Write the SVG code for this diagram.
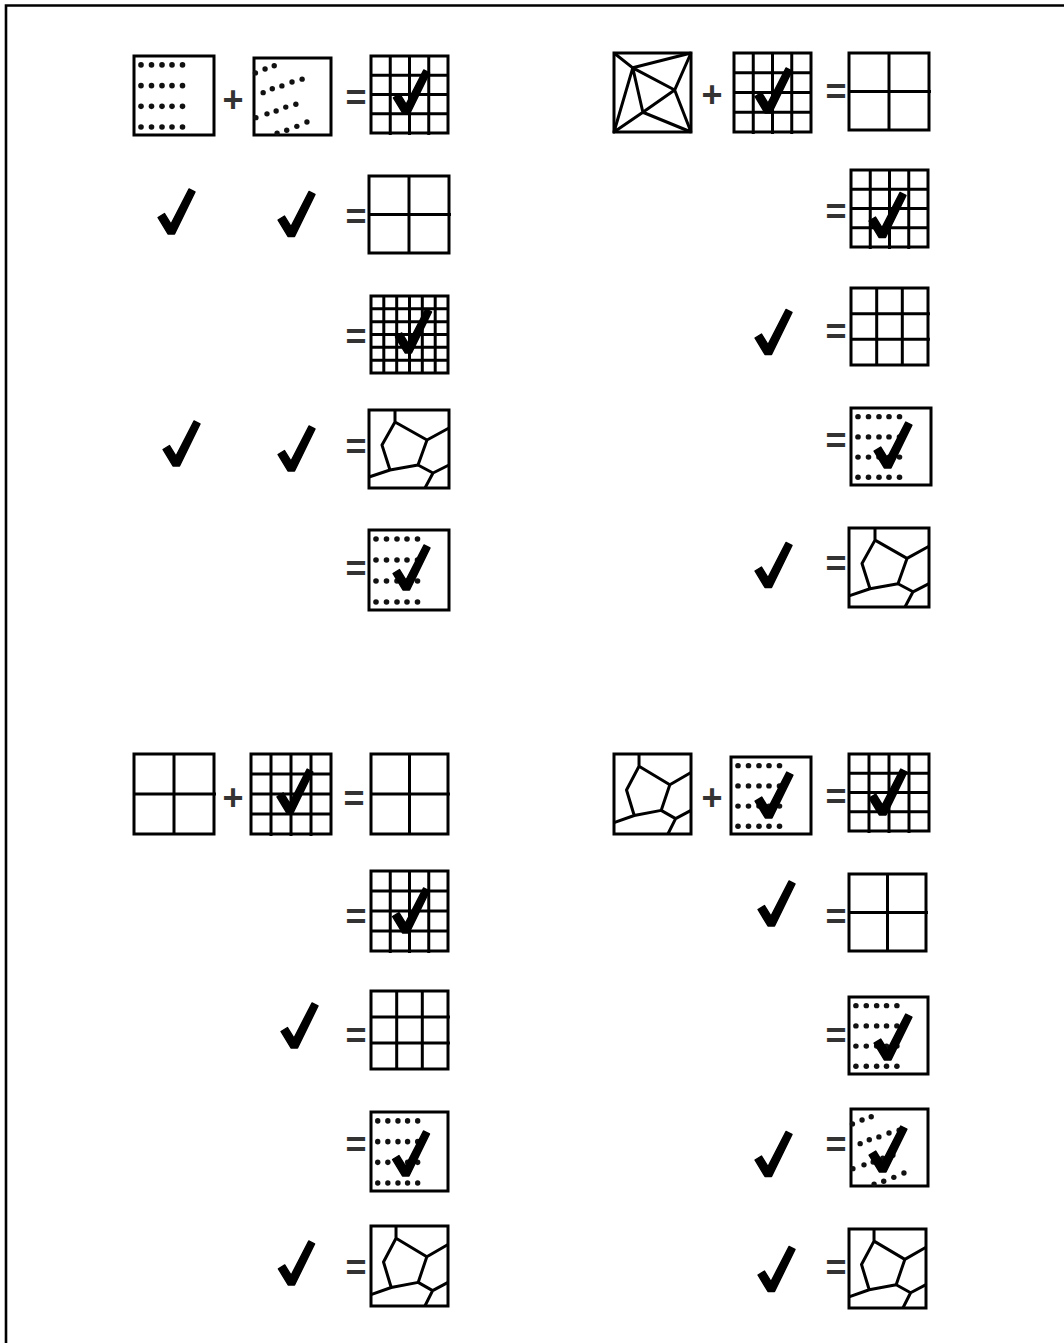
<svg xmlns="http://www.w3.org/2000/svg" xmlns:xlink="http://www.w3.org/1999/xlink" width="1064" height="1343" viewBox="0 0 1064 1343">
<style>
.ln{fill:none;stroke:#000;stroke-width:3;vector-effect:non-scaling-stroke;stroke-linejoin:round}
.bx{fill:#fff;stroke:#000;stroke-width:3;vector-effect:non-scaling-stroke}
.dt{fill:#111}
.op{font-family:"Liberation Sans",Arial,sans-serif;font-weight:bold;font-size:36px;fill:#333;text-anchor:middle}
.ck{fill:#000;stroke:#000;stroke-width:1.4;stroke-linejoin:round}
</style>
<defs>
<symbol id="dots" viewBox="0 0 80 80" preserveAspectRatio="none" overflow="visible">
<rect class="bx" x="0" y="0" width="80" height="80"/>
<g class="dt">
<circle cx="7" cy="9" r="2.8"/><circle cx="17.5" cy="9" r="2.8"/><circle cx="28" cy="9" r="2.8"/><circle cx="38" cy="9" r="2.8"/><circle cx="48.5" cy="9" r="2.8"/>
<circle cx="7" cy="30" r="2.8"/><circle cx="17.5" cy="30" r="2.8"/><circle cx="28" cy="30" r="2.8"/><circle cx="38" cy="30" r="2.8"/><circle cx="48.5" cy="30" r="2.8"/>
<circle cx="7" cy="51" r="2.8"/><circle cx="17.5" cy="51" r="2.8"/><circle cx="28" cy="51" r="2.8"/><circle cx="38" cy="51" r="2.8"/><circle cx="48.5" cy="51" r="2.8"/>
<circle cx="7" cy="72" r="2.8"/><circle cx="17.5" cy="72" r="2.8"/><circle cx="28" cy="72" r="2.8"/><circle cx="38" cy="72" r="2.8"/><circle cx="48.5" cy="72" r="2.8"/>
</g>
</symbol>
<symbol id="slant" viewBox="0 0 80 80" preserveAspectRatio="none" overflow="visible">
<rect class="bx" x="0" y="0" width="80" height="80"/>
<g class="dt">
<circle cx="1.5" cy="15.5" r="2.8"/><circle cx="11.5" cy="11.5" r="2.8"/><circle cx="21" cy="8" r="2.8"/>
<circle cx="9.5" cy="36" r="2.8"/><circle cx="19" cy="32" r="2.8"/><circle cx="29" cy="29" r="2.8"/><circle cx="39.5" cy="25" r="2.8"/><circle cx="50" cy="22" r="2.8"/>
<circle cx="2" cy="62" r="2.8"/><circle cx="13.5" cy="58" r="2.8"/><circle cx="23" cy="55" r="2.8"/><circle cx="33" cy="51" r="2.8"/><circle cx="43.5" cy="48" r="2.8"/>
<circle cx="24" cy="78" r="2.8"/><circle cx="34" cy="75" r="2.8"/><circle cx="44.5" cy="71" r="2.8"/><circle cx="55" cy="66.5" r="2.8"/>
</g>
</symbol>
<symbol id="g2" viewBox="0 0 80 80" preserveAspectRatio="none" overflow="visible">
<rect class="bx" x="0" y="0" width="80" height="80"/>
<path class="ln" d="M40,0V80M0,40H82"/>
</symbol>
<symbol id="g3" viewBox="0 0 80 80" preserveAspectRatio="none" overflow="visible">
<rect class="bx" x="0" y="0" width="80" height="80"/>
<path class="ln" d="M26.7,0V81M53.3,0V81M0,26.7H82M0,53.3H82"/>
</symbol>
<symbol id="g4" viewBox="0 0 80 80" preserveAspectRatio="none" overflow="visible">
<rect class="bx" x="0" y="0" width="80" height="80"/>
<path class="ln" d="M20,0V82M40,0V82M60,0V82M0,20H80M0,40H80M0,60H80"/>
</symbol>
<symbol id="g6" viewBox="0 0 80 80" preserveAspectRatio="none" overflow="visible">
<rect class="bx" x="0" y="0" width="80" height="80"/>
<path class="ln" d="M13.3,0V81M26.7,0V81M40,0V81M53.3,0V81M66.7,0V81M0,13.3H80M0,26.7H80M0,40H80M0,53.3H80M0,66.7H80"/>
</symbol>
<symbol id="tri" viewBox="0 0 80 80" preserveAspectRatio="none" overflow="visible">
<rect class="bx" x="0" y="0" width="80" height="80"/>
<path class="ln" d="M0,0L19.5,15L80,0M19.5,15L63,37.5L80,0M19.5,15L30,60L63,37.5L80,80M19.5,15L0,80L30,60L80,80"/>
</symbol>
<symbol id="vor" viewBox="0 0 80 80" preserveAspectRatio="none" overflow="visible">
<rect class="bx" x="0" y="0" width="80" height="80"/>
<path class="ln" d="M26,0V12.3L58,30.8L80,18.5M58,30.8L49,56.4L21,61.5L13,36L26,12.3M21,61.5L0,68.7M49,56.4L64,64.6L80,56.4M64,64.6L56,80"/>
</symbol>
<symbol id="chk" viewBox="0 0 38 46" overflow="visible">
<path class="ck" d="M1,29.5L7.5,25.5L14,36L32,1L38,4L17.5,46L11,46Z"/>
</symbol>
</defs>

<path id="frame" d="M6,1343V5.5H1064" fill="none" stroke="#000" stroke-width="2.6"/>

<g id="connectors"></g>

<g id="top-left">
<g id="tl-r1">
<use href="#dots" x="134" y="56" width="80" height="79"/>
<text class="op" x="233" y="112">+</text>
<use href="#slant" x="254" y="58" width="77" height="77"/>
<text class="op" x="356" y="110">=</text>
<use href="#g4" x="371" y="56" width="77" height="77"/>
<use href="#chk" x="392" y="69" width="38" height="45"/>
</g>
<g id="tl-r2">
<use href="#chk" x="157" y="188" width="38" height="46"/>
<use href="#chk" x="277" y="190" width="38" height="47"/>
<text class="op" x="356" y="229">=</text>
<use href="#g2" x="369" y="176" width="80" height="77"/>
</g>
<g id="tl-r3">
<text class="op" x="356" y="349">=</text>
<use href="#g6" x="371" y="296" width="77" height="77"/>
<use href="#chk" x="394" y="308" width="38" height="45"/>
</g>
<g id="tl-r4">
<use href="#chk" x="162" y="420" width="38" height="46"/>
<use href="#chk" x="277" y="425" width="38" height="46"/>
<text class="op" x="356" y="459">=</text>
<use href="#vor" x="369" y="410" width="80" height="78"/>
</g>
<g id="tl-r5">
<text class="op" x="356" y="581">=</text>
<use href="#dots" x="369" y="530" width="80" height="80"/>
<use href="#chk" x="392" y="544" width="38" height="46"/>
</g>
</g>

<g id="top-right">
<g id="tr-r1">
<use href="#tri" x="614" y="53" width="77" height="79"/>
<text class="op" x="712" y="107">+</text>
<use href="#g4" x="734" y="53" width="77" height="79"/>
<use href="#chk" x="754" y="67" width="38" height="46"/>
<text class="op" x="836" y="104">=</text>
<use href="#g2" x="849" y="53" width="80" height="77"/>
</g>
<g id="tr-r2">
<text class="op" x="836" y="224">=</text>
<use href="#g4" x="851" y="170" width="77" height="77"/>
<use href="#chk" x="868" y="191" width="38" height="47"/>
</g>
<g id="tr-r3">
<use href="#chk" x="754" y="308" width="38" height="47"/>
<text class="op" x="836" y="344">=</text>
<use href="#g3" x="851" y="288" width="77" height="77"/>
</g>
<g id="tr-r4">
<text class="op" x="836" y="453">=</text>
<use href="#dots" x="851" y="408" width="80" height="77"/>
<use href="#chk" x="873" y="421" width="39" height="47"/>
</g>
<g id="tr-r5">
<use href="#chk" x="754" y="541" width="38" height="47"/>
<text class="op" x="836" y="576">=</text>
<use href="#vor" x="849" y="528" width="80" height="79"/>
</g>
</g>

<g id="bottom-left">
<g id="bl-r1">
<use href="#g2" x="134" y="754" width="80" height="80"/>
<text class="op" x="233" y="810">+</text>
<use href="#g4" x="251" y="754" width="80" height="80"/>
<use href="#chk" x="276" y="768" width="37" height="45"/>
<text class="op" x="354" y="811">=</text>
<use href="#g2" x="371" y="754" width="77" height="80"/>
</g>
<g id="bl-r2">
<text class="op" x="356" y="929">=</text>
<use href="#g4" x="371" y="871" width="77" height="80"/>
<use href="#chk" x="391" y="887" width="39" height="46"/>
</g>
<g id="bl-r3">
<use href="#chk" x="280" y="1002" width="38" height="46"/>
<text class="op" x="356" y="1048">=</text>
<use href="#g3" x="371" y="991" width="77" height="78"/>
</g>
<g id="bl-r4">
<text class="op" x="356" y="1157">=</text>
<use href="#dots" x="371" y="1112" width="77" height="79"/>
<use href="#chk" x="391" y="1130" width="39" height="46"/>
</g>
<g id="bl-r5">
<use href="#chk" x="277" y="1240" width="38" height="45"/>
<text class="op" x="356" y="1280">=</text>
<use href="#vor" x="371" y="1226" width="77" height="80"/>
</g>
</g>

<g id="bottom-right">
<g id="br-r1">
<use href="#vor" x="614" y="754" width="77" height="80"/>
<text class="op" x="712" y="810">+</text>
<use href="#dots" x="731" y="757" width="80" height="77"/>
<use href="#chk" x="754" y="771" width="39" height="47"/>
<text class="op" x="836" y="809">=</text>
<use href="#g4" x="849" y="754" width="80" height="77"/>
<use href="#chk" x="868" y="768" width="39" height="47"/>
</g>
<g id="br-r2">
<use href="#chk" x="757" y="880" width="38" height="46"/>
<text class="op" x="836" y="929">=</text>
<use href="#g2" x="849" y="874" width="77" height="77"/>
</g>
<g id="br-r3">
<text class="op" x="836" y="1048">=</text>
<use href="#dots" x="849" y="997" width="79" height="77"/>
<use href="#chk" x="873" y="1013" width="39" height="47"/>
</g>
<g id="br-r4">
<use href="#chk" x="754" y="1130" width="38" height="47"/>
<text class="op" x="836" y="1157">=</text>
<use href="#slant" x="851" y="1109" width="77" height="77"/>
<use href="#chk" x="868" y="1125" width="39" height="47"/>
</g>
<g id="br-r5">
<use href="#chk" x="757" y="1245" width="38" height="47"/>
<text class="op" x="836" y="1280">=</text>
<use href="#vor" x="849" y="1229" width="77" height="79"/>
</g>
</g>
</svg>
